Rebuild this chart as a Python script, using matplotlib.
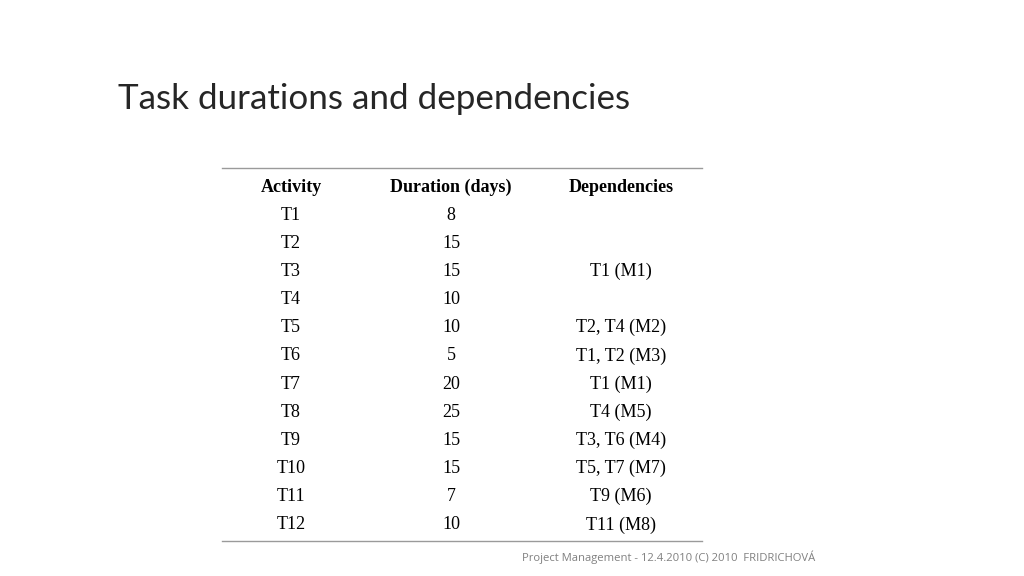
import matplotlib
matplotlib.use("Agg")
import matplotlib.pyplot as plt

# ---- data ----
headers = ["Activity", "Duration (days)", "Dependencies"]
activities = ["T1", "T2", "T3", "T4", "T5", "T6", "T7", "T8", "T9", "T10", "T11", "T12"]
durations = [8, 15, 15, 10, 10, 5, 20, 25, 15, 15, 7, 10]
dependencies = ["", "", "T1 (M1)", "", "T2, T4 (M2)", "T1, T2 (M3)", "T1 (M1)",
                "T4 (M5)", "T3, T6 (M4)", "T5, T7 (M7)", "T9 (M6)", "T11 (M8)"]
title = "Task durations and dependencies"
footer = "Project Management - 12.4.2010 (C) 2010  FRIDRICHOVÁ"

W, H = 1024, 576
fig = plt.figure(figsize=(W / 100, H / 100), dpi=100)
ax = fig.add_axes([0, 0, 1, 1])
ax.set_xlim(0, W)
ax.set_ylim(H, 0)
ax.axis("off")

# title
ax.text(118, 99, title, fontsize=25.2, family=["Lato", "DejaVu Sans"],
        fontweight="normal", color="#262626", va="center", ha="left")

# table
col_x = [291, 451, 621]
x0, x1 = 222, 702
y_top, y_bot = 168, 541
header_y = 187
row0_y = 215
row_step = 28.18

ax.plot([x0, x1], [y_top, y_top], color="#9a9a9a", lw=1.0)
ax.plot([x0, x1], [y_bot, y_bot], color="#9a9a9a", lw=1.0)

serif = ["Liberation Serif", "DejaVu Serif"]
for cx, h in zip(col_x, headers):
    ax.text(cx, header_y, h, fontsize=13, family=serif, fontweight="bold",
            ha="center", va="center", color="#000000")

for i, (a, d, dep) in enumerate(zip(activities, durations, dependencies)):
    y = row0_y + i * row_step
    for cx, val in zip(col_x, [a, str(d), dep]):
        if val:
            ax.text(cx, y, val, fontsize=13, family=serif, ha="center",
                    va="center", color="#000000")

# footer
ax.text(522, 557, footer, fontsize=8.1, family=["Open Sans", "DejaVu Sans"],
        color="#808080", ha="left", va="center")

fig.savefig("out.png", dpi=100, facecolor="white")
